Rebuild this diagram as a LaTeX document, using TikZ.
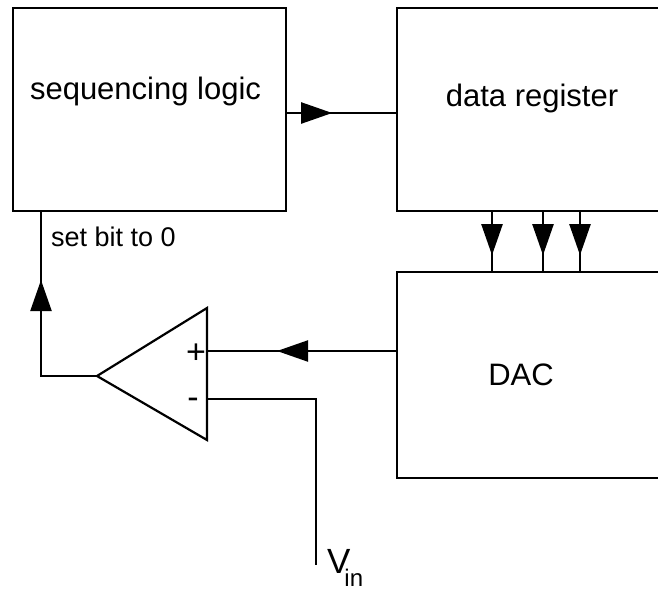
\documentclass[tikz,border=0pt]{standalone}
\usepackage{fontspec}
\setmainfont{Liberation Sans}
\usetikzlibrary{arrows.meta,decorations.markings}
\begin{document}
\begin{tikzpicture}[x=1pt,y=-1pt, line width=2.2pt,
  box/.style={draw, rectangle, inner sep=0pt},
  lbl/.style={font=\fontsize{31}{36}\selectfont, inner sep=0pt, anchor=base},
  small/.style={font=\fontsize{27}{31}\selectfont, inner sep=0pt},
  sign/.style={font=\fontsize{34}{38}\selectfont, inner sep=0pt},
  mk/.style={postaction={decorate}, decoration={markings, mark=at position #1 with {\arrow{Triangle[length=31pt,width=21pt]}}}}]
\useasboundingbox (0,0) rectangle (658,589);
\clip (0,0) rectangle (658,589);
% boxes
\node[box, anchor=north west, minimum width=273pt, minimum height=203pt] (seq) at (12,7) {};
\node[box, anchor=north west, minimum width=290pt, minimum height=203pt] (reg) at (396,7) {};
\node[box, anchor=north west, minimum width=290pt, minimum height=206pt] (dac) at (396,271) {};
% labels
\node[lbl] (tseq) at (145.5,99) {sequencing logic};
\node[lbl] (treg) at (532,106) {data register};
\node[lbl] (tdac) at (521,385) {DAC};
\node[small, anchor=base west] (tset) at (50,246) {set bit to 0};
% op amp
\coordinate (optop) at (207,308);
\coordinate (opbot) at (207,440);
\coordinate (opout) at (97,376);
\coordinate (opp) at (207,351);
\coordinate (opm) at (207,399);
\draw (optop) -- (opbot) -- (opout) -- cycle;
\node[sign] (tplus) at (196,354) {+};
\node[sign] (tminus) at (193,403) {-};
% helper coordinates
\coordinate (yA) at (0,113);
\coordinate (yP) at (0,351);
\coordinate (xa) at (492,0);
\coordinate (xb) at (543,0);
\coordinate (xc) at (580,0);
\coordinate (bend) at (41,376);
\coordinate (vinc) at (316,399);
\coordinate (vinend) at (316,565);
% connectors
\draw[mk=45pt] (seq.east |- yA) -- (reg.west |- yA);
\draw[mk=43pt] (reg.south -| xa) -- (dac.north -| xa);
\draw[mk=43pt] (reg.south -| xb) -- (dac.north -| xb);
\draw[mk=43pt] (reg.south -| xc) -- (dac.north -| xc);
\draw[mk=119pt] (dac.west |- yP) -- (opp);
\draw[mk=152pt] (opout) -- (bend) -- (seq.south -| bend);
\draw (opm) -- (vinc) -- (vinend);
\node[anchor=base west, inner sep=0pt, font=\fontsize{35}{40}\selectfont] (vin) at (326,573) {V\kern-6pt\raisebox{-13pt}{\fontsize{24}{28}\selectfont in}};
\end{tikzpicture}
\end{document}
